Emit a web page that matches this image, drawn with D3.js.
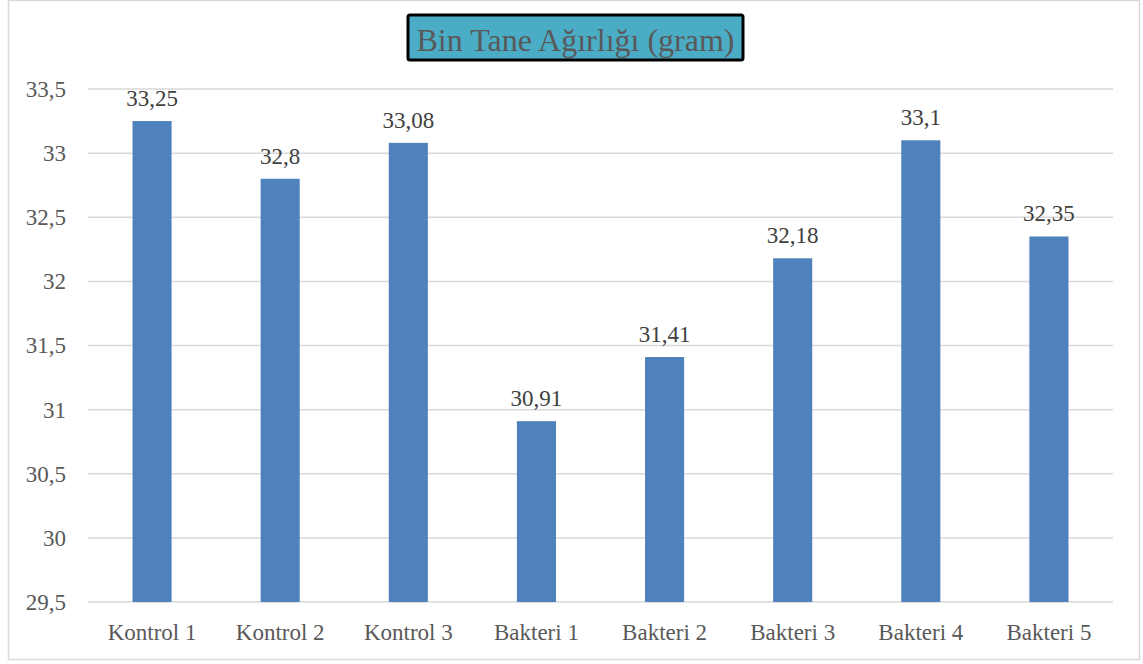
<!DOCTYPE html>
<html>
<head>
<meta charset="utf-8">
<script src="https://cdn.jsdelivr.net/npm/d3@7"></script>
<style>
  body { margin: 0; background: #fff; }
  svg text { font-family: "Liberation Serif", "Times New Roman", serif !important; }
</style>
</head>
<body>
<div id="chart"></div>
<script>
// data
const categories = ["Kontrol 1", "Kontrol 2", "Kontrol 3", "Bakteri 1", "Bakteri 2", "Bakteri 3", "Bakteri 4", "Bakteri 5"];
const values = [33.25, 32.8, 33.08, 30.91, 31.41, 32.18, 33.1, 32.35];
const yTicks = [29.5, 30, 30.5, 31, 31.5, 32, 32.5, 33, 33.5];
const title = "Bin Tane Ağırlığı (gram)";

const width = 1143, height = 664;
const margin = { top: 89, right: 30, bottom: 62, left: 88 };
const fmt = d => String(d).replace(".", ",");

const svg = d3.select("#chart")
  .append("svg")
  .attr("width", width)
  .attr("height", height);

// outer chart frame
svg.append("rect")
  .attr("x", 8.5).attr("y", 0.5)
  .attr("width", 1131).attr("height", 659)
  .attr("fill", "#fff")
  .attr("stroke", "#d9d9d9")
  .attr("stroke-width", 1.5);

const x = d3.scaleBand()
  .domain(categories)
  .range([margin.left, width - margin.right])
  .paddingInner(0.695)
  .paddingOuter(0.3475);

const y = d3.scaleLinear()
  .domain([29.5, 33.5])
  .range([height - margin.bottom, margin.top]);

// gridlines
svg.append("g")
  .selectAll("line")
  .data(yTicks)
  .join("line")
  .attr("x1", margin.left)
  .attr("x2", width - margin.right)
  .attr("y1", d => y(d))
  .attr("y2", d => y(d))
  .attr("stroke", "#d9d9d9")
  .attr("stroke-width", 1.5);

// Y axis labels
const yAxis = svg.append("g")
  .attr("transform", `translate(${margin.left},0)`)
  .call(d3.axisLeft(y).tickValues(yTicks).tickFormat(fmt).tickSize(0).tickPadding(22));
yAxis.select(".domain").remove();
yAxis.selectAll("text")
  .attr("fill", "#595959")
  .style("font-size", "23px");

// X axis labels
const xAxis = svg.append("g")
  .attr("transform", `translate(0,${height - margin.bottom})`)
  .call(d3.axisBottom(x).tickSize(0).tickPadding(22));
xAxis.select(".domain").remove();
xAxis.selectAll("text")
  .attr("fill", "#595959")
  .style("font-size", "23px");

// bars
svg.append("g")
  .selectAll("rect")
  .data(values)
  .join("rect")
  .attr("x", (d, i) => x(categories[i]))
  .attr("y", d => y(d))
  .attr("width", x.bandwidth())
  .attr("height", d => y(29.5) - y(d))
  .attr("fill", "#4f81bd");

// data labels
svg.append("g")
  .selectAll("text")
  .data(values)
  .join("text")
  .attr("x", (d, i) => x(categories[i]) + x.bandwidth() / 2)
  .attr("y", d => y(d) - 15)
  .attr("text-anchor", "middle")
  .attr("fill", "#404040")
  .style("font-size", "23px")
  .text(fmt);

// title box
const tg = svg.append("g");
tg.append("rect")
  .attr("x", 408).attr("y", 15)
  .attr("width", 335).attr("height", 45)
  .attr("rx", 2)
  .attr("fill", "#4bacc6")
  .attr("stroke", "#000")
  .attr("stroke-width", 3);
tg.append("text")
  .attr("x", 575.5).attr("y", 51)
  .attr("text-anchor", "middle")
  .attr("fill", "#595959")
  .style("font-size", "32px")
  .text(title);
</script>
</body>
</html>
